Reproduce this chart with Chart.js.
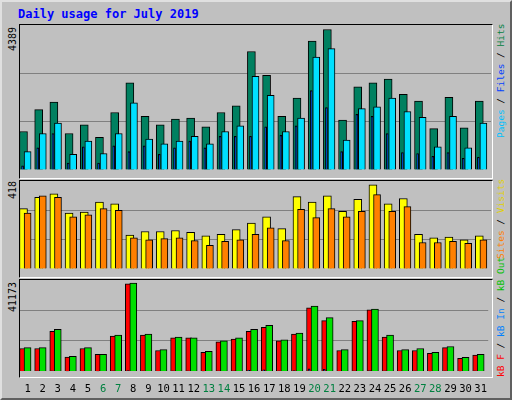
<!DOCTYPE html>
<html>
<head>
<meta charset="utf-8">
<script src="https://cdn.jsdelivr.net/npm/chart.js@4"></script>
<style>
  body { margin: 0; background: #fff; }
  #frame { position: absolute; left: 0; top: 0; width: 508px; height: 396px; background: #c0c0c0;
    border-top: 2px solid #e0e0e0; border-left: 2px solid #e0e0e0; border-right: 2px solid #606060; border-bottom: 2px solid #606060; }
  .title { position: absolute; left: 18px; top: 7px; font: bold 12px "DejaVu Sans Mono", monospace; color: #0000ff; }
  .panel { position: absolute; left: 19px; width: 472px; border-top: 1px solid #000; border-left: 1px solid #000;
    border-right: 1px solid #fff; border-bottom: 1px solid #fff; }
  .box { position: absolute; }
  .lbl { position: absolute; font: 10px "DejaVu Sans Mono", monospace; transform-origin: left top; transform: rotate(-90deg); white-space: nowrap; }
  .rl { font-size: 9.5px; }
</style>
</head>
<body>
<div id="frame"></div>
<div class="title">Daily usage for July 2019</div>
<div class="panel" style="top:24px;height:153px"></div>
<div class="panel" style="top:180px;height:96px"></div>
<div class="panel" style="top:279px;height:97px"></div>
<div class="box" style="left:20px;top:25px;width:471px;height:153px"><canvas id="c1"></canvas></div>
<div class="box" style="left:20px;top:181px;width:471px;height:96px"><canvas id="c2"></canvas></div>
<div class="box" style="left:20px;top:280px;width:471px;height:120px"><canvas id="c3"></canvas></div>
<div class="lbl" style="left:7px;top:51px">4389</div>
<div class="lbl" style="left:7px;top:199px">418</div>
<div class="lbl" style="left:7px;top:312px">41173</div>
<div class="lbl rl" style="left:495px;top:138px"><span style="color:#00c0ff">Pages</span> / <span style="color:#0040ff">Files</span> / <span style="color:#008040">Hits</span></div>
<div class="lbl rl" style="left:495px;top:259px"><span style="color:#ff8000">Sites</span> / <span style="color:#e0d000">Visits</span></div>
<div class="lbl rl" style="left:495px;top:377px"><span style="color:#ff0000">kB F</span> / <span style="color:#0080ff">kB In</span> / <span style="color:#00c000">kB Out</span></div>
<script>
const days = Array.from({length: 31}, (_, i) => i + 1);
const weekends = [6, 7, 13, 14, 20, 21, 27, 28];

const hits  = [1164,1828,2059,1106,1366,991,1741,2636,1626,1366,1539,1568,1308,1741,1943,3588,2867,1626,2174,3906,4252,1510,2520,2636,2751,2290,2088,1251,2203,1280,2088];
const files = [558,1106,1424,471,875,500,1106,2030,933,789,875,1020,789,1164,1337,2838,2261,1164,1568,3415,3675,904,1857,1914,2174,1770,1597,702,1626,673,1424];
const pages = [125,673,1106,212,702,212,731,558,731,471,673,875,673,1020,1020,1020,1308,1049,1337,2405,1886,558,1683,1626,1106,529,500,414,529,356,385];

const visits = [287,340,357,266,270,318,309,161,178,178,183,174,157,165,187,218,248,192,344,318,348,274,331,400,309,335,165,148,152,139,157];
const sites  = [266,348,340,248,257,287,279,148,139,144,148,135,113,131,139,165,196,135,283,244,287,248,274,353,274,296,126,126,131,122,139];

const kbF   = [10300,10300,18100,6400,10300,7700,15900,39400,16400,9400,15100,15100,8600,13300,14600,18100,19900,13800,16800,28600,22900,9400,22500,27700,15500,9400,9400,8100,10700,5900,7300];
const kbOut = [10700,10700,19000,6800,10700,7700,16400,39800,16800,9800,15500,15100,9000,13800,15100,19000,20800,14200,17300,29400,24200,9800,22900,28100,16400,9800,10300,8600,11200,6300,7700];
const kbIn  = [200,250,300,150,200,150,300,350,300,200,300,300,150,300,300,500,700,300,400,1200,900,200,300,400,300,200,250,150,300,100,300];

function ds(values, off, thick, color, order) {
  return { data: values.map((v, i) => ({ x: days[i] + off, y: v })), backgroundColor: color,
    borderColor: '#000', borderWidth: 1, barThickness: thick, order: order, borderSkipped: 'bottom' };
}

function makeChart(id, datasets, max, showX) {
  return new Chart(document.getElementById(id), {
    type: 'bar',
    data: { datasets },
    options: {
      responsive: true, maintainAspectRatio: false, animation: false,
      grouped: false,
      layout: { padding: 0 },
      plugins: { legend: { display: false }, tooltip: { enabled: false } },
      scales: {
        x: { type: 'linear', min: 0.5, max: 31.5, offset: false,
          afterBuildTicks: ax => { ax.ticks = days.map(d => ({ value: d })); },
          grid: { display: false }, border: { display: false },
          ticks: { display: showX, autoSkip: false, maxRotation: 0, padding: 4,
            font: { family: 'DejaVu Sans Mono', size: 10.5 },
            color: c => weekends.includes(c.tick.value) ? '#008040' : '#000' } },
        y: { min: 0, max: max, afterBuildTicks: ax => { ax.ticks = [0, max / 3, 2 * max / 3, max].map(v => ({ value: v })); },
          grid: { color: c => (c.tick.value > 0 && c.tick.value < max) ? '#808080' : 'rgba(0,0,0,0)', lineWidth: 1, drawTicks: false },
          border: { display: false }, ticks: { display: false } }
      }
    }
  });
}

makeChart('c1', [
  ds(hits, -0.27, 8, '#008060', 3),
  ds(files, 0.0, 7, '#00e0ff', 2),
  ds(pages, -0.33, 2, '#0040ff', 1)
], 4389, false);

makeChart('c2', [
  ds(visits, -0.27, 8, '#ffff00', 2),
  ds(sites, 0.0, 7, '#ff8000', 1)
], 418, false);

makeChart('c3', [
  ds(kbF, -0.33, 6, '#ff0000', 2),
  ds(kbOut, 0.0, 7, '#00e000', 1),
  ds(kbIn, -0.36, 2, '#0080ff', 0)
], 41173, true);
</script>
</body>
</html>
